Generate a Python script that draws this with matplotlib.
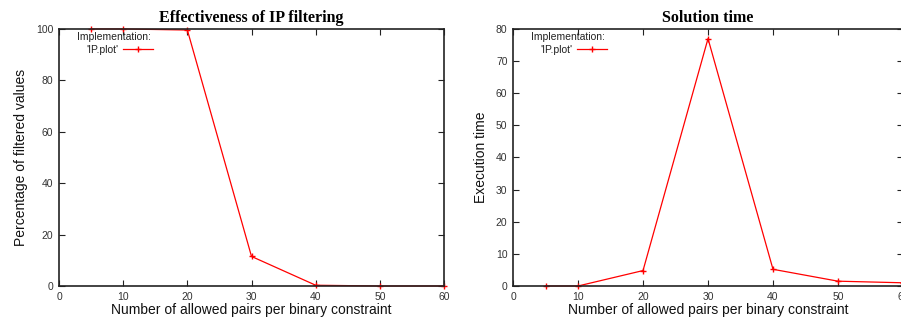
import matplotlib
matplotlib.use("Agg")
import matplotlib.pyplot as plt

plt.rcParams['font.family'] = ['Liberation Sans', 'DejaVu Sans']

pairs = [5, 10, 20, 30, 40, 50, 60]
filtered = [100, 100, 99.6, 11.5, 0.3, 0, 0]
exec_time = [0, 0, 4.8, 77, 5.2, 1.5, 1.0]

fig = plt.figure(figsize=(9.01, 3.25), dpi=100)
ax1 = fig.add_axes([0.0655, 0.12, 0.4273, 0.7908])
ax2 = fig.add_axes([0.5694, 0.12, 0.4328, 0.7908])


def style(ax, title, ylabel, ymax, ystep):
    ax.set_xlim(0, 60)
    ax.set_ylim(0, ymax)
    ax.set_xticks(range(0, 61, 10))
    ax.set_yticks(range(0, ymax + 1, ystep))
    ax.tick_params(direction='in', top=True, right=True, labelsize=7.5,
                   length=4, width=0.8, pad=4, colors='#222222',
                   labelcolor='#333333')
    for s in ax.spines.values():
        s.set_linewidth(1.2)
        s.set_color('#222222')
    ax.set_title(title, family='Liberation Serif', fontweight='bold',
                 fontsize=11.5, pad=5)
    ax.set_xlabel('Number of allowed pairs per binary constraint', fontsize=10,
                  labelpad=1, color='#111111')
    ax.set_ylabel(ylabel, fontsize=10, labelpad=6, color='#111111')
    # key in gnuplot style: title line, then label with sample to the right
    w = ax.get_position().width * 901
    ax.text(18 / w, 0.988, 'Implementation:', transform=ax.transAxes,
            fontsize=7.5, va='top', ha='left', color='#222222')
    ax.legend(markerfirst=False, frameon=False, loc='center left',
              bbox_to_anchor=(27 / w, 0.92), fontsize=7.5,
              handlelength=2.8, borderaxespad=0, borderpad=0,
              handletextpad=0.5, labelcolor='#222222')


ax1.plot(pairs, filtered, color='red', lw=0.9, marker='+', ms=4,
         label="'IP.plot'", clip_on=False)
style(ax1, 'Effectiveness of IP filtering', 'Percentage of filtered values', 100, 20)

ax2.plot(pairs, exec_time, color='red', lw=0.9, marker='+', ms=4,
         label="'IP.plot'", clip_on=False)
style(ax2, 'Solution time', 'Execution time', 80, 10)

fig.savefig('out.png', dpi=100)
